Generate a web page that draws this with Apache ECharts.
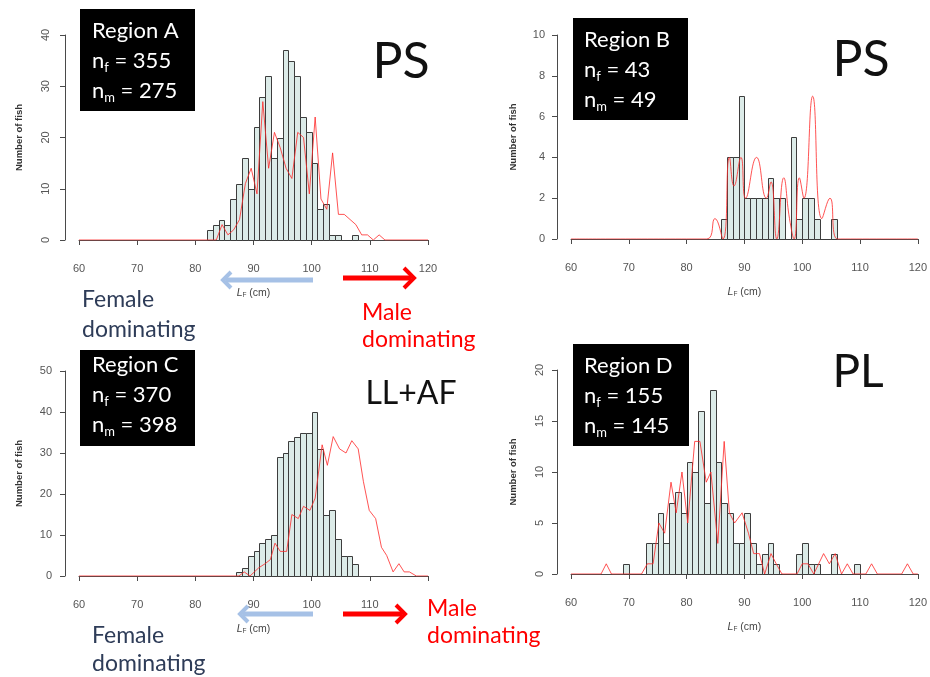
<!DOCTYPE html>
<html><head><meta charset="utf-8">
<script src="https://cdn.jsdelivr.net/npm/echarts@6/dist/echarts.min.js"></script>
<style>html,body{margin:0;padding:0;background:#fff}#c{width:930px;height:677px}</style>
</head><body><div id="c"></div>
<script>
// ---------- DATA ----------
// Female histograms: bin start (cm, 1-cm bins) and counts
const femaleBinsA = [82,83,84,85,86,87,88,89,90,91,92,93,94,95,96,97,98,99,100,101,102,103,104,105,106,107];
const femaleCountsA = [2,3,4,3,8,11,16,10,22,28,32,16,20,37,35,32,24,21,15,6,7,1,1,0,0,1];
const femaleBinsB = [86,87,88,89,90,91,92,93,94,95,96,97,98,99,100,101,102,103,104,105];
const femaleCountsB = [1,4,4,7,2,2,2,2,3,2,2,0,5,1,2,2,1,0,0,1];
const femaleBinsC = [87,88,89,90,91,92,93,94,95,96,97,98,99,100,101,102,103,104,105,106,107];
const femaleCountsC = [1,2,5,6,8,9,10,29,30,33,34,35,35,40,31,15,16,9,5,5,3];
const femaleBinsD = [69,70,71,72,73,74,75,76,77,78,79,80,81,82,83,84,85,86,87,88,89,90,91,92,93,94,95,96,97,98,99,100,101,102,103,104,105,106,107,108,109];
const femaleCountsD = [1,0,0,0,3,3,6,3,7,8,6,11,10,16,7,18,11,7,6,3,3,6,3,1,2,3,1,0,0,0,2,3,1,1,0,0,2,0,0,0,1];

// Male frequency lines: length (cm) and count
const maleLenA = [60,83.6,84.6,85.6,86.6,87.6,88.6,89.6,90.6,91.6,92.6,93.6,94.6,95.6,96.6,97.6,98.6,99.6,100.6,101.6,102.6,103.6,104.6,105.6,106.6,107.6,108.6,109.6,110.6,111.6,112.6,120];
const maleCntA = [0,0,3,1,2,4,11,14,9,27,14,21,18,14,12,21,20,9,24,8,6,17,5,5,4,3,1,1,0,1,0,0];
const maleLenB = [60,83.5,84.9,86.3,87.4,88.2,89.4,90.2,92.1,93.8,94.6,95.6,96.8,97.8,98.6,99.5,100.3,101.8,103.4,104.8,106.1,120];
const maleCntB = [0,0,1,0,4,2.6,4,2,4,2,2.8,0,3,1,0,3,2,7,1,2,0,0];
const maleLenC = [60,87.5,88.4,89.4,90.9,92,92.9,93.7,94.6,95.7,96.6,97.7,98.6,99.7,100.6,101.8,102.7,103.7,104.8,105.9,106.9,108,108.9,109.9,111,112,112.9,114,115,115.9,116.8,118,120];
const maleCntC = [0,0,1,0,2,3,4,8,6,6,15,14,17,16,19,32,27,34,31,30,33,31,23,16,14,7,5,1,3,1,1,0,0];
const maleLenD = [60,65.2,66.1,67,72.2,73.2,74.2,75.2,76.2,77.3,78.2,79.2,80.2,81.4,82.3,83.4,84.2,85.4,86.5,87.4,88.3,89.6,90.7,91.6,92.6,93.5,94.6,95.5,96.5,99.1,100,101,102,103.7,104.7,105.7,106.8,107.8,108.8,111,112,113,117.2,118.2,119.2,120];
const maleCntD = [0,0,1,0,0,1,1,5,4,9,6,10,5,13,13,9,10,3,13,6,5,6,4,2,2,0,2,1,0,0,1,1,0,2,1,2,0,1,0,0,1,0,0,1,0,0];

// Axis ticks
const xTicks = [60,70,80,90,100,110,120];
const yMaxA = 40, yStepA = 10;
const yMaxB = 10, yStepB = 2;
const yMaxC = 50, yStepC = 10;
const yMaxD = 20, yStepD = 5;

// Texts
const regions = ['Region A','Region B','Region C','Region D'];
const nFemale = [355, 43, 370, 155];
const nMale = [275, 49, 398, 145];
const gearLabels = ['PS','PS','LL+AF','PL'];
const BIN = 1;

// ---------- LAYOUT ----------
const grids = [
  {left:79, top:35, width:349, height:205},
  {left:571, top:35, width:350, height:204},
  {left:79, top:371, width:349, height:205},
  {left:571, top:370, width:348, height:204}
];
const yCfg = [
  {max:yMaxA, step:yStepA, rot:90, margin:14},
  {max:yMaxB, step:yStepB, rot:0, margin:12},
  {max:yMaxC, step:yStepC, rot:0, margin:13},
  {max:yMaxD, step:yStepD, rot:90, margin:12}
];
const axisColor = '#4a4a4a';
const labelColor = '#555';

const chart = echarts.init(document.getElementById('c'));

const xAxes = grids.map((g,i)=>({
  gridIndex:i, type:'value', min:xTicks[0], max:xTicks[xTicks.length-1], interval:xTicks[1]-xTicks[0],
  offset: Math.round(g.height*0.04),
  axisLine:{show:true, lineStyle:{color:axisColor, width:1}},
  axisTick:{show:true, length:5, lineStyle:{color:axisColor}},
  axisLabel:{color:labelColor, fontSize:11, margin:15, fontFamily:'Liberation Sans'},
  splitLine:{show:false},
  name:'{i|L}{s|F}{n| (cm)}', nameLocation:'middle', nameGap:40,
  nameTextStyle:{color:'#444', rich:{
    i:{fontStyle:'italic', fontSize:10.5, fontFamily:'Liberation Sans', color:'#444'},
    s:{fontSize:6.5, fontFamily:'Liberation Sans', verticalAlign:'bottom', lineHeight:8, color:'#444'},
    n:{fontSize:10.5, fontFamily:'Liberation Sans', color:'#444'}}}
}));
const yAxes = grids.map((g,i)=>({
  gridIndex:i, type:'value', min:0, max:yCfg[i].max, interval:yCfg[i].step,
  offset: Math.round(g.width*0.04),
  axisLine:{show:true, lineStyle:{color:axisColor, width:1}},
  axisTick:{show:true, length:5, lineStyle:{color:axisColor}},
  axisLabel:{color:labelColor, fontSize:11, margin:yCfg[i].margin, rotate:yCfg[i].rot, fontFamily:'Liberation Sans'},
  splitLine:{show:false},
  name:'Number of fish', nameLocation:'middle', nameGap: (i%2===0)?41:39,
  nameTextStyle:{color:'#333', fontSize:9.5, fontWeight:'bold', fontFamily:'Liberation Sans'}
}));

function histSeries(idx, bins, counts){
  return {
    type:'custom', xAxisIndex:idx, yAxisIndex:idx, silent:true, z:2,
    data: bins.map((b,k)=>[b, counts[k]]),
    renderItem:(params, api)=>{
      const x0 = api.value(0), v = api.value(1);
      const a = api.coord([x0, 0]);
      const b = api.coord([x0 + BIN, v]);
      return {type:'rect',
        shape:{x:Math.round(a[0])+0.5, y:Math.round(b[1])+0.5, width:Math.round(b[0])-Math.round(a[0]), height:Math.round(a[1])-Math.round(b[1])},
        style:{fill:'#dcebe8', stroke:'#3d3d3d', lineWidth:1}};
    }
  };
}
function maleSeries(idx, lens, cnts, smooth){
  return {
    type:'line', xAxisIndex:idx, yAxisIndex:idx, silent:true, z:3, symbol:'none',
    smooth: smooth ? 0.5 : false,
    data: lens.map((x,k)=>[x, cnts[k]]),
    lineStyle:{color:'rgba(255,40,40,0.8)', width:1}
  };
}

const series = [
  histSeries(0, femaleBinsA, femaleCountsA), maleSeries(0, maleLenA, maleCntA, false),
  histSeries(1, femaleBinsB, femaleCountsB), maleSeries(1, maleLenB, maleCntB, true),
  histSeries(2, femaleBinsC, femaleCountsC), maleSeries(2, maleLenC, maleCntC, false),
  histSeries(3, femaleBinsD, femaleCountsD), maleSeries(3, maleLenD, maleCntD, false)
];

// ---------- GRAPHICS (boxes, labels, arrows) ----------
const boxPos = [
  {x:80, y:9, w:115, h:102, tx:92, ty:31},
  {x:573, y:18, w:115, h:102, tx:584, ty:40},
  {x:80, y:350, w:115, h:96, tx:92, ty:365},
  {x:573, y:344, w:116, h:102, tx:584, ty:366}
];
const gearPos = [
  {x:401, y:62, size:50}, {x:861, y:60, size:50}, {x:411, y:394, size:32}, {x:858, y:372, size:46}
];
const FONT = 'Lato';
const graphics = [];
boxPos.forEach((b,i)=>{
  graphics.push({type:'rect', shape:{x:b.x, y:b.y, width:b.w, height:b.h}, style:{fill:'#000'}, z:10});
  graphics.push({type:'text', x:b.tx, y:b.ty, z:11, style:{text:regions[i], fill:'#fff', fontSize:22, fontFamily:FONT, verticalAlign:'middle'}});
  const rich = {m:{fontSize:22, fontFamily:FONT, fill:'#fff', lineHeight:26, verticalAlign:'middle'},
                s:{fontSize:13, fontFamily:FONT, fill:'#fff', lineHeight:10, verticalAlign:'bottom'}};
  graphics.push({type:'text', x:b.tx, y:b.ty+30, z:11, style:{text:'{m|n}{s|f}{m| = '+nFemale[i]+'}', rich, verticalAlign:'middle', fill:'#fff'}});
  graphics.push({type:'text', x:b.tx, y:b.ty+60, z:11, style:{text:'{m|n}{s|m}{m| = '+nMale[i]+'}', rich, verticalAlign:'middle', fill:'#fff'}});
});
gearPos.forEach((g,i)=>{
  graphics.push({type:'text', x:g.x, y:g.y, z:11, style:{text:gearLabels[i], fill:'#111', fontSize:g.size, fontFamily:FONT, align:'center', verticalAlign:'middle'}});
});
// gaps in the axis line (as in the reference)
graphics.push({type:'rect', shape:{x:338, y:244, width:5, height:8}, style:{fill:'#fff'}, z:12});
graphics.push({type:'rect', shape:{x:338, y:579, width:5, height:8}, style:{fill:'#fff'}, z:12});
// white backing of the lower "Male dominating" note (hides the 120 label there, as in the reference)
graphics.push({type:'rect', shape:{x:418, y:595, width:130, height:60}, style:{fill:'#fff'}, z:11});
// arrows
const blue = '#a6c1e6', red = '#ff0000';
function arrow(x1, x2, y, color, head){
  const dir = x2 > x1 ? 1 : -1;
  graphics.push({type:'polyline', z:12, shape:{points:[[x1,y],[x2 - dir*3,y]]}, style:{stroke:color, lineWidth:5}});
  graphics.push({type:'polyline', z:12, shape:{points:[[x2 - dir*head, y-head],[x2,y],[x2 - dir*head, y+head]]}, style:{stroke:color, lineWidth:4, lineJoin:'miter'}});
}
arrow(313, 223, 280, blue, 8);
arrow(343, 414, 278, red, 10);
arrow(313, 240, 614, blue, 8);
arrow(343, 405, 614, red, 9);
const femaleColor = '#2e3c58';
function words(x, y1, y2, color){
  graphics.push({type:'text', x:x, y:y1, z:12, style:{text:color===red?'Male':'Female', fill:color, fontSize:23, fontFamily:FONT, verticalAlign:'middle'}});
  graphics.push({type:'text', x:x, y:y2, z:12, style:{text:'dominating', fill:color, fontSize:23, fontFamily:FONT, verticalAlign:'middle'}});
}
words(82, 300, 330, femaleColor);
words(362, 313, 340, red);
words(92, 636, 664, femaleColor);
words(427, 609, 636, red);

chart.setOption({
  animation:false,
  backgroundColor:'#fff',
  grid: grids,
  xAxis: xAxes,
  yAxis: yAxes,
  series: series,
  graphic: graphics
});
</script>
</body></html>
